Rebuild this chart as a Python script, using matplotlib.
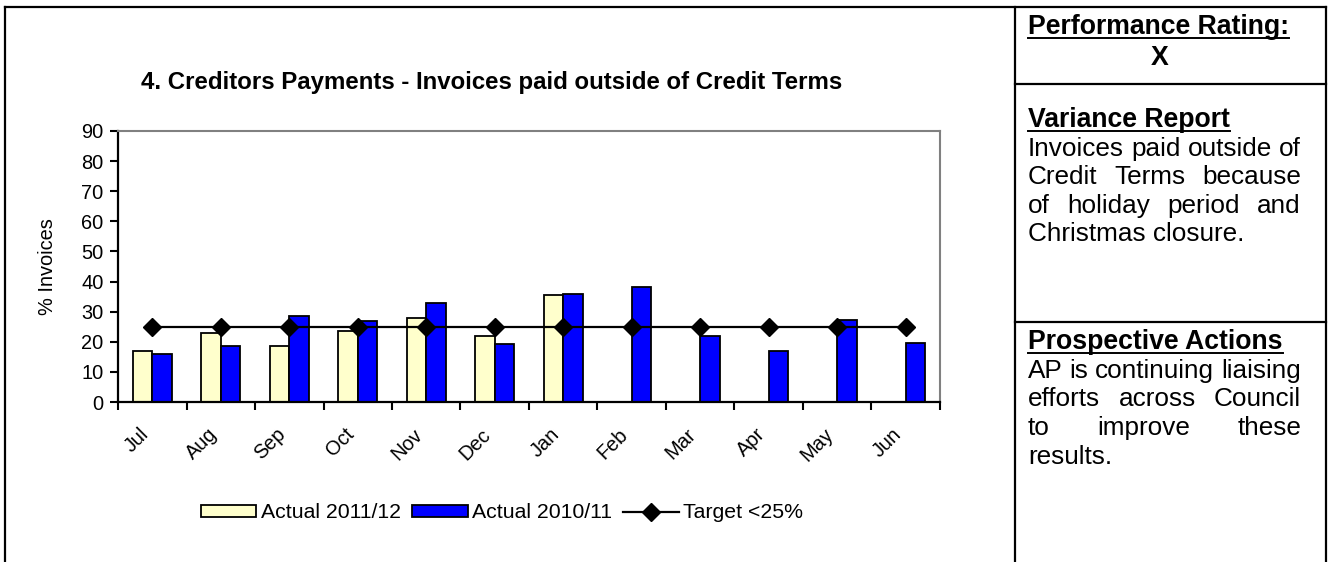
import numpy as np
import matplotlib
matplotlib.use('Agg')
import matplotlib.pyplot as plt
from matplotlib.lines import Line2D
from matplotlib.patches import Patch

plt.rcParams['font.family'] = ['Liberation Sans', 'DejaVu Sans']

# Data
months = ['Jul', 'Aug', 'Sep', 'Oct', 'Nov', 'Dec', 'Jan', 'Feb', 'Mar', 'Apr', 'May', 'Jun']
actual_1112 = [17.0, 22.8, 18.6, 23.7, 27.9, 21.9, 35.6]
actual_1011 = [16.0, 18.6, 28.6, 26.9, 32.9, 19.3, 36.0, 38.1, 22.0, 16.9, 27.1, 19.7]
target = [25] * 12

variance_lines = ['Invoices paid outside of', 'Credit Terms because',
                  'of holiday period and', 'Christmas closure.']
action_lines = ['AP is continuing liaising', 'efforts across Council',
                'to improve these', 'results.']

W, H = 1338, 562
fig = plt.figure(figsize=(W / 100, H / 100), dpi=100)


def fx(px):
    return px / W


def fy(py):
    return 1 - py / H


# ---- chart ----
ax = fig.add_axes([fx(118), fy(402), fx(940) - fx(118), fy(131) - fy(402)])
x = np.arange(len(months))
bw = 0.286
ax.bar(x[:len(actual_1112)] - bw / 2, actual_1112, bw, color='#FFFFCC',
       edgecolor='black', linewidth=1.3, zorder=2)
ax.bar(x + bw / 2, actual_1011, bw, color='#0000FF',
       edgecolor='black', linewidth=1.3, zorder=2)
ax.plot(x, target, color='black', lw=1.6, marker='D', ms=9, zorder=3)

ax.set_xlim(-0.5, len(months) - 0.5)
ax.set_ylim(0, 90)
ax.set_yticks(range(0, 91, 10))
ax.set_xticks(np.arange(-0.5, len(months), 1))
ax.set_xticklabels([])
ax.tick_params(axis='y', labelsize=14.4, length=5.5, width=1.5, pad=5)
ax.tick_params(axis='x', length=5.5, width=1.5)
for s in ['top', 'right']:
    ax.spines[s].set_color('#808080')
    ax.spines[s].set_linewidth(1.5)
for s in ['left', 'bottom']:
    ax.spines[s].set_linewidth(1.6)

# month labels: Excel puts the end of each rotated label near the category centre
for i, m in enumerate(months):
    ax.text(i - 0.1, -9.8, m, rotation=45, ha='right', va='center',
            rotation_mode='anchor', fontsize=14.4, clip_on=False)

ax.set_ylabel('% Invoices', fontsize=14.4)
ax.yaxis.set_label_coords(-0.074, 0.5)

fig.text(fx(492), fy(83), '4. Creditors Payments - Invoices paid outside of Credit Terms',
         fontsize=17.3, fontweight='bold', ha='center', va='center')

handles = [Patch(facecolor='#FFFFCC', edgecolor='black', linewidth=1.3),
           Patch(facecolor='#0000FF', edgecolor='black', linewidth=1.3),
           Line2D([], [], color='black', lw=1.6, marker='D', ms=9)]
fig.legend(handles, ['Actual 2011/12', 'Actual 2010/11', 'Target <25%'],
           loc='center', bbox_to_anchor=(fx(502), fy(513)), ncol=3, frameon=False,
           fontsize=15.3, handlelength=2.6, handleheight=0.55, handletextpad=0.2,
           columnspacing=0.55)

# ---- frame lines ----
def hline(y, x0, x1):
    fig.add_artist(Line2D([fx(x0), fx(x1)], [fy(y), fy(y)], transform=fig.transFigure,
                          color='black', lw=1.6))


def vline(xp, y0, y1):
    fig.add_artist(Line2D([fx(xp), fx(xp)], [fy(y0), fy(y1)], transform=fig.transFigure,
                          color='black', lw=1.6))


hline(7, 5, 1326)
vline(5, 7, 562)
vline(1015, 7, 562)
vline(1326, 7, 562)
hline(84, 1015, 1326)
hline(322, 1015, 1326)

# ---- right panel text ----
renderer = fig.canvas.get_renderer()
tx0, tx1 = 1028, 1301
fs = 18.8
fs_head = 19.2


def heading(s, y):
    t = fig.text(fx(tx0), fy(y), s, fontsize=fs_head, fontweight='bold', va='baseline')
    bb = t.get_window_extent(renderer)
    fig.add_artist(Line2D([fx(bb.x0), fx(bb.x1)], [fy(y + 4), fy(y + 4)],
                          transform=fig.transFigure, color='black', lw=1.4))


def justified(lines, y0, step):
    for k, line in enumerate(lines):
        y = y0 + k * step
        words = line.split()
        if k == len(lines) - 1 or len(words) == 1:
            fig.text(fx(tx0), fy(y), line, fontsize=fs, va='baseline')
            continue
        ts = [fig.text(0, fy(y), w, fontsize=fs, va='baseline') for w in words]
        widths = [t.get_window_extent(renderer).width for t in ts]
        gap = (tx1 - tx0 - sum(widths)) / (len(words) - 1)
        xp = tx0
        for t, w in zip(ts, widths):
            t.set_x(fx(xp))
            xp += w + gap


heading('Performance Rating:', 34)
fig.text(fx(1160), fy(58), 'X', fontsize=fs_head, fontweight='bold', ha='center', va='center')
heading('Variance Report', 127)
justified(variance_lines, 156, 28.5)
heading('Prospective Actions', 349)
justified(action_lines, 378, 28.5)

fig.savefig('out.png', dpi=100)
